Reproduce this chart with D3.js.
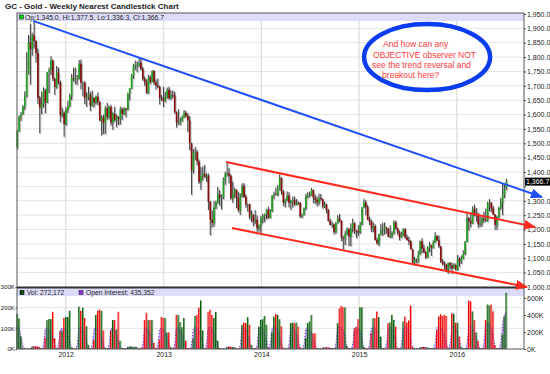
<!DOCTYPE html>
<html>
<head>
<meta charset="utf-8">
<script src="https://cdn.jsdelivr.net/npm/d3@7"></script>
<style>
  body { margin: 0; background: #fff; }
  text { font-family: "Liberation Sans", Arial, sans-serif; }
</style>
</head>
<body>
<svg id="chart" width="550" height="374"></svg>
<script>
// Weekly candles, week of 2011-07-04 through week of 2016-07-04 (262 weeks)
const weeks = d3.timeMonday.range(new Date(2011, 6, 4), new Date(2016, 6, 5));

const open = [
  // 2011
  1488,1542,1594,1601,1628,1663,1744,1852,1828,1876,1856,1814,1658,1624,1636,1683,1642,1747,1755,1788,1725,1696,1746,1713,1598,1606,
  // 2012
  1566,1617,1630,1664,1727,1725,1725,1725,1777,1711,1711,1658,1662,1669,1631,1659,1642,1663,1645,1580,1591,1572,1622,1592,1627,1572,1604,1580,1592,1585,1619,1603,1621,1617,1672,1692,1737,1770,1772,1773,1781,1759,1724,1712,1676,1730,1714,1752,1712,1702,1697,1657,1656,
  // 2013
  1649,1662,1687,1657,1669,1667,1609,1572,1572,1577,1592,1606,1596,1580,1501,1405,1468,1470,1436,1366,1386,1393,1383,1387,1297,1234,1223,1277,1295,1322,1310,1313,1371,1395,1395,1387,1308,1325,1338,1310,1268,1315,1352,1315,1287,1288,1244,1251,1229,1235,1204,1214,
  // 2014
  1238,1247,1254,1270,1240,1262,1318,1324,1321,1338,1379,1333,1294,1303,1318,1293,1300,1302,1287,1293,1292,1245,1252,1274,1316,1320,1320,1337,1311,1303,1294,1310,1306,1280,1287,1268,1229,1216,1218,1192,1222,1238,1231,1171,1169,1185,1201,1175,1204,1222,1196,1195,
  // 2015
  1189,1217,1277,1294,1278,1234,1227,1204,1212,1164,1152,1184,1199,1201,1207,1203,1175,1178,1188,1225,1204,1189,1172,1180,1201,1173,1163,1158,1131,1085,1095,1094,1113,1159,1134,1121,1103,1137,1145,1137,1156,1177,1163,1142,1088,1081,1077,1056,1084,1075,1065,1076,
  // 2016
  1060,1098,1088,1097,1116,1157,1239,1230,1221,1271,1250,1255,1218,1222,1239,1234,1231,1291,1294,1273,1252,1216,1243,1275,1294,1322,1345.0
];

const high = [
  1546,1597,1610,1633,1681,1817,1877,1917,1885,1923,1860,1830,1665,1680,1695,1690,1748,1764,1804,1792,1728,1769,1764,1718,1624,1612,
  1626,1648,1673,1741,1763,1764,1738,1790,1792,1715,1716,1678,1697,1680,1684,1660,1667,1677,1646,1597,1600,1630,1641,1631,1634,1608,1628,1600,1595,1628,1625,1626,1624,1677,1692,1741,1777,1788,1785,1798,1793,1766,1732,1723,1739,1737,1754,1755,1722,1726,1700,1668,1697,
  1679,1694,1697,1684,1684,1680,1611,1619,1590,1597,1616,1613,1605,1595,1502,1480,1488,1477,1444,1417,1420,1425,1396,1395,1299,1267,1299,1301,1348,1337,1322,1382,1401,1433,1414,1392,1367,1346,1340,1331,1326,1361,1362,1322,1290,1290,1266,1254,1267,1249,1218,1248,
  1255,1256,1272,1280,1271,1320,1332,1346,1355,1392,1382,1337,1307,1333,1330,1304,1315,1315,1306,1298,1296,1255,1277,1325,1330,1332,1345,1339,1322,1315,1325,1324,1308,1297,1290,1272,1238,1228,1221,1227,1250,1255,1232,1178,1196,1208,1206,1222,1238,1225,1199,1215,
  1227,1278,1307,1302,1285,1244,1235,1225,1218,1172,1186,1219,1224,1225,1210,1206,1215,1194,1232,1232,1207,1196,1193,1205,1206,1183,1175,1164,1133,1105,1099,1126,1162,1170,1147,1125,1142,1157,1148,1163,1191,1180,1180,1142,1097,1090,1081,1085,1087,1085,1083,1082,
  1112,1104,1110,1128,1160,1263,1244,1261,1281,1287,1275,1258,1246,1251,1262,1273,1297,1306,1294,1282,1254,1248,1280,1311,1362,1358,1377.5
];

const low = [
  1481,1540,1578,1600,1617,1660,1740,1705,1805,1830,1781,1637,1535,1601,1625,1605,1640,1675,1738,1717,1669,1690,1705,1573,1590,1523,
  1562,1606,1626,1651,1715,1705,1704,1722,1688,1663,1636,1627,1650,1612,1628,1625,1635,1633,1577,1527,1532,1533,1582,1584,1562,1547,1576,1556,1564,1565,1582,1599,1590,1615,1650,1689,1724,1755,1747,1765,1754,1718,1700,1672,1672,1706,1713,1703,1687,1692,1635,1647,1626,
  1643,1655,1652,1651,1658,1603,1555,1564,1563,1576,1588,1590,1540,1476,1321,1395,1442,1423,1359,1338,1372,1380,1366,1268,1180,1207,1211,1271,1290,1283,1270,1305,1356,1384,1361,1305,1293,1311,1274,1260,1251,1312,1310,1276,1262,1235,1225,1211,1218,1185,1193,1183,
  1222,1226,1235,1238,1240,1262,1306,1320,1316,1336,1321,1282,1277,1298,1277,1268,1277,1283,1284,1285,1240,1240,1249,1268,1309,1312,1317,1292,1289,1280,1284,1300,1273,1275,1256,1228,1215,1206,1183,1186,1221,1226,1160,1132,1146,1180,1142,1142,1190,1185,1170,1177,
  1185,1215,1275,1250,1232,1216,1191,1191,1162,1147,1142,1180,1178,1183,1185,1174,1170,1170,1183,1200,1180,1162,1171,1176,1168,1162,1146,1131,1077,1078,1082,1083,1112,1118,1118,1098,1101,1122,1108,1134,1153,1160,1136,1084,1075,1062,1052,1046,1061,1046,1065,1057,
  1058,1071,1080,1097,1111,1157,1196,1207,1220,1246,1227,1206,1208,1211,1224,1227,1227,1264,1260,1250,1199,1200,1240,1269,1250,1310,1336.3
];

const close = [
  1542,1594,1601,1628,1663,1744,1852,1828,1876,1856,1814,1658,1624,1636,1683,1642,1747,1755,1788,1725,1696,1746,1713,1598,1606,1566,
  1617,1630,1664,1727,1725,1725,1725,1777,1711,1711,1658,1662,1669,1631,1659,1642,1663,1645,1580,1591,1572,1622,1592,1627,1572,1604,1580,1592,1585,1619,1603,1621,1617,1672,1692,1737,1770,1772,1773,1781,1759,1724,1712,1676,1730,1714,1752,1712,1702,1697,1657,1656,1649,
  1662,1687,1657,1669,1667,1609,1572,1572,1577,1592,1606,1596,1580,1501,1405,1468,1470,1436,1366,1386,1393,1383,1387,1297,1234,1223,1277,1295,1322,1310,1313,1371,1395,1395,1387,1308,1325,1338,1310,1268,1315,1352,1315,1287,1288,1244,1251,1229,1235,1204,1214,1238,
  1247,1254,1270,1240,1262,1318,1324,1321,1338,1379,1333,1294,1303,1318,1293,1300,1302,1287,1293,1292,1245,1252,1274,1316,1320,1320,1337,1311,1303,1294,1310,1306,1280,1287,1268,1229,1216,1218,1192,1222,1238,1231,1171,1169,1185,1201,1175,1204,1222,1196,1195,1189,
  1217,1277,1294,1278,1234,1227,1204,1212,1164,1152,1184,1199,1201,1207,1203,1175,1178,1188,1225,1204,1189,1172,1180,1201,1173,1163,1158,1131,1085,1095,1094,1113,1159,1134,1121,1103,1137,1145,1137,1156,1177,1163,1142,1088,1081,1077,1056,1084,1075,1065,1076,1060,
  1098,1088,1097,1116,1157,1239,1230,1221,1271,1250,1255,1218,1222,1239,1234,1231,1291,1294,1273,1252,1216,1243,1275,1294,1322,1340,1366.7
];

// Volume and open interest, in thousands of contracts
const volume = [
  170,148,60,5,3,2,2,3, 12,14,13,12,8,3,5, 55,140,145,145,180,52,5,4,
  85,88,150,155,155,185,8,3,2,4, 205,185,200,150,110,20,4,3, 45,165,185,190,185,90,6,3,5,
  90,140,140,95,180,40,5,3,2, 10,12,12,10,11,8,3,2,6, 140,175,140,140,140,30,4,3,
  45,155,150,150,80,80,8,3,4, 165,165,130,105,150,40,5,3,4, 50,160,165,200,235,90,5,3,
  180,190,165,150,180,40,5,3,2,2, 10,12,11,9,8,3,2,5, 117,128,125,154,117,20,5,3,4,
  108,141,144,160,117,6,3, 81,157,170,165,144,110,8,3,2,5, 125,128,125,128,108,10,3,4,
  52,125,133,165,76,76,5,3,2, 6,7,8,7,6,5,3,5, 125,197,209,202,202,15,4,3,5,
  100,105,144,202,202,10,4,3,5, 76,149,149,181,154,60,5,3,4, 125,128,165,140,108,6,3,4,
  133,157,128,138,210,10,4,3,2, 8,9,10,9,7,3,2,4,5, 92,157,168,160,165,160,5,3,
  173,170,127,127,60,10,4,3,5, 235,230,182,140,80,40,5,3,4, 140,215,210,215,182,20,4,3,5,
  70,157,272.172
];

const openInterest = [
  280,250,150,40,8,5,4,4, 18,20,20,18,12,6,60, 240,250,230,190,130,60,8,70,
  230,245,240,220,170,100,20,6,4,60, 250,255,230,170,90,15,5,60, 240,250,240,200,140,60,8,5,60,
  240,245,220,160,90,20,5,4,3, 15,18,20,18,15,10,4,5,60, 240,250,230,180,110,20,5,60,
  235,245,230,190,130,60,8,5,60, 245,250,220,160,90,20,5,4,60, 240,255,240,210,150,70,6,70,
  250,255,230,180,120,40,6,4,3,3, 15,18,18,15,12,4,5,60, 245,250,220,170,100,15,5,4,60,
  245,255,230,180,100,6,70, 240,255,250,220,160,80,8,4,4,60, 240,250,220,170,100,10,5,60,
  235,245,230,190,120,60,5,4,3, 14,16,18,16,12,8,5,60, 250,260,250,210,140,15,5,4,60,
  245,260,245,210,140,12,5,4,60, 240,255,245,210,150,60,6,5,60, 245,255,230,170,100,6,5,60,
  245,260,240,200,130,12,5,4,3, 14,16,18,16,12,5,4,5,70, 250,265,250,210,150,70,6,70,
  260,270,240,180,100,12,5,4,70, 265,270,250,200,130,60,6,5,70, 280,300,290,240,160,20,5,5,80,
  300,400,435.352
];

const priceTicks = d3.range(1000, 1951, 50);
const volTicks = [0, 100, 200, 300];
const oiTicks = [0, 200, 400, 600];
const yearTicks = [2012, 2013, 2014, 2015, 2016].map(yr => new Date(yr, 0, 1));

// Hand-drawn trend lines (date, price) and callout text
const blueTrend = [{ date: new Date(2011, 8, 1), price: 1926 }, { date: new Date(2016, 10, 14), price: 1313 }];
const upperChannel = [{ date: new Date(2013, 7, 22), price: 1435 }, { date: new Date(2016, 9, 19), price: 1209 }];
const lowerChannel = [{ date: new Date(2013, 8, 13), price: 1205 }, { date: new Date(2016, 8, 19), price: 1000 }];
const calloutLines = ["And how can any", "OBJECTIVE observer NOT", "see the trend reversal and", "breakout here?"];

const rows = weeks.map((d, i) => ({
  date: d, o: open[i], h: high[i], l: low[i], c: close[i], v: volume[i], oi: openInterest[i]
}));
const last = rows[rows.length - 1];

const svg = d3.select("#chart");
const plotL = 17, plotR = 524, plotT = 13, plotM = 287, plotB = 349;

const x = d3.scaleTime().domain([new Date(2011, 6, 3), new Date(2016, 8, 8)]).range([plotL, plotR]);
const y = d3.scaleLinear().domain([1000, 1950]).range([287, 14]);
const vy = d3.scaleLinear().domain([0, 300]).range([plotB, 287]);
const oy = d3.scaleLinear().domain([0, 600]).range([plotB, 298]);

// grid
const grid = svg.append("g");
grid.selectAll("line.h").data(priceTicks).join("line")
  .attr("x1", plotL).attr("x2", plotR)
  .attr("y1", d => y(d)).attr("y2", d => y(d))
  .attr("stroke", "#e4e4e4").attr("stroke-width", 1);
grid.selectAll("line.vh").data([100, 200]).join("line")
  .attr("x1", plotL).attr("x2", plotR)
  .attr("y1", d => vy(d)).attr("y2", d => vy(d))
  .attr("stroke", "#e4e4e4");
grid.selectAll("line.v").data(yearTicks).join("line")
  .attr("x1", d => x(d)).attr("x2", d => x(d))
  .attr("y1", plotT).attr("y2", plotB)
  .attr("stroke", "#dcdcdc").attr("stroke-width", 1.2);

// header bands
svg.append("rect").attr("x", plotL).attr("y", plotT).attr("width", plotR - plotL).attr("height", 8).attr("fill", "#dcdcf8");
svg.append("rect").attr("x", plotL).attr("y", plotM + 1).attr("width", plotR - plotL).attr("height", 8).attr("fill", "#dcdcf8");

// candles
const bw = 1.6;
const cg = svg.append("g");
const shadow = cg.append("g").attr("transform", "translate(1,1)").attr("opacity", 0.75);
shadow.selectAll("line").data(rows).join("line")
  .attr("x1", d => x(d.date)).attr("x2", d => x(d.date))
  .attr("y1", d => y(d.h)).attr("y2", d => y(d.l))
  .attr("stroke", "#a8a8a8").attr("stroke-width", 1);
shadow.selectAll("rect").data(rows).join("rect")
  .attr("x", d => x(d.date) - bw / 2).attr("width", bw)
  .attr("y", d => y(Math.max(d.o, d.c)))
  .attr("height", d => Math.max(0.8, Math.abs(y(d.o) - y(d.c))))
  .attr("fill", "#a8a8a8");
cg.selectAll("line.wick").data(rows).join("line")
  .attr("class", "wick")
  .attr("x1", d => x(d.date)).attr("x2", d => x(d.date))
  .attr("y1", d => y(d.h)).attr("y2", d => y(d.l))
  .attr("stroke", "#111").attr("stroke-width", 0.8);
cg.selectAll("rect.body").data(rows).join("rect")
  .attr("class", "body")
  .attr("x", d => x(d.date) - bw / 2).attr("width", bw)
  .attr("y", d => y(Math.max(d.o, d.c)))
  .attr("height", d => Math.max(0.8, Math.abs(y(d.o) - y(d.c))))
  .attr("fill", d => d.c >= d.o ? "#22a022" : "#8a0c0c");

// open interest area behind the volume bars
svg.append("path").datum(rows)
  .attr("d", d3.area().x(d => x(d.date)).y0(plotB).y1(d => oy(d.oi)).curve(d3.curveMonotoneX))
  .attr("fill", "#bb8ef2").attr("opacity", 0.85);

// volume bars
const vg = svg.append("g");
vg.selectAll("rect.lite").data(rows).join("rect")
  .attr("class", "lite")
  .attr("x", d => x(d.date) + 0.2).attr("width", 0.8)
  .attr("y", d => vy(d.v)).attr("height", d => plotB - vy(d.v))
  .attr("fill", d => d.c >= d.o ? "#6fa56f" : "#ff8585");
vg.selectAll("rect.dark").data(rows).join("rect")
  .attr("class", "dark")
  .attr("x", d => x(d.date) - 0.9).attr("width", 1.1)
  .attr("y", d => vy(d.v)).attr("height", d => plotB - vy(d.v))
  .attr("fill", d => d.c >= d.o ? "#0b5e0b" : "#ee0000");

svg.append("path").datum(rows)
  .attr("d", d3.line().x(d => x(d.date)).y(d => oy(d.oi)).curve(d3.curveMonotoneX))
  .attr("fill", "none").attr("stroke", "#4b2a9a").attr("stroke-width", 0.8)
  .attr("stroke-dasharray", "1.2,1.8");

// borders
svg.append("rect").attr("x", plotL).attr("y", plotT).attr("width", plotR - plotL).attr("height", plotB - plotT)
  .attr("fill", "none").attr("stroke", "#555").attr("stroke-width", 1);
svg.append("line").attr("x1", plotL).attr("x2", plotR).attr("y1", plotM + 0.5).attr("y2", plotM + 0.5)
  .attr("stroke", "#333").attr("stroke-width", 2);

// axes
const axisStyle = (g, size) => {
  g.select(".domain").remove();
  g.selectAll("line").attr("stroke", "#444");
  g.selectAll("text").attr("fill", "#222").style("font-size", (size || 7) + "px")
    .style("font-family", '"Liberation Sans", Arial, sans-serif');
};
svg.append("g").attr("transform", `translate(${plotR},0)`)
  .call(d3.axisRight(y).tickValues(priceTicks).tickSize(2).tickPadding(1)
    .tickFormat(d => Math.abs(y(d) - y(last.c)) < 6 ? "" : d3.format(",.1f")(d)))
  .call(axisStyle);
svg.append("g").attr("transform", `translate(${plotL},0)`)
  .call(d3.axisLeft(vy).tickValues(volTicks).tickSize(1.5).tickPadding(0.5).tickFormat(d => d + "K"))
  .call(axisStyle, 6.2);
svg.append("g").attr("transform", `translate(${plotR},0)`)
  .call(d3.axisRight(oy).tickValues(oiTicks).tickSize(2).tickPadding(1).tickFormat(d => d + "K"))
  .call(axisStyle);
svg.append("g").attr("transform", `translate(0,${plotB})`)
  .call(d3.axisBottom(x).tickValues(yearTicks).tickSize(0).tickPadding(3).tickFormat(d3.timeFormat("%Y")))
  .call(axisStyle);

// last price tag
svg.append("rect").attr("x", plotR + 1).attr("y", y(last.c) - 4).attr("width", 25).attr("height", 8).attr("fill", "#000");
svg.append("text").attr("x", plotR + 2).attr("y", y(last.c) + 2.5)
  .attr("fill", "#fff").style("font-size", "7px").text(d3.format(",.1f")(last.c));

// trend lines with arrow heads
const defs = svg.append("defs");
[["arrowBlue", "#1f4ff5"], ["arrowRed", "#ff2a1f"]].forEach(([id, col]) => {
  defs.append("marker").attr("id", id).attr("markerUnits", "userSpaceOnUse")
    .attr("markerWidth", 12).attr("markerHeight", 10).attr("refX", 11).attr("refY", 5)
    .attr("orient", "auto")
    .append("path").attr("d", "M0,0 L12,5 L0,10 Z").attr("fill", col);
});
const trend = d3.line().x(d => x(d.date)).y(d => y(d.price));
svg.append("path").attr("d", trend(blueTrend)).attr("stroke", "#1f4ff5").attr("stroke-width", 2)
  .attr("fill", "none").attr("marker-end", "url(#arrowBlue)");
[upperChannel, lowerChannel].forEach(seg => {
  svg.append("path").attr("d", trend(seg)).attr("stroke", "#ff2a1f").attr("stroke-width", 2)
    .attr("fill", "none").attr("marker-end", "url(#arrowRed)");
});

// callout
const cx = x(new Date(2015, 8, 12)), cy = y(1800);
svg.append("ellipse").attr("cx", cx).attr("cy", cy).attr("rx", 63).attr("ry", 33)
  .attr("fill", "#fff").attr("stroke", "#0a3cf0").attr("stroke-width", 4.5);
const offsets = [[-44, -10], [-54, 0.5], [-55, 10.8], [-45, 21]];
svg.selectAll("text.callout").data(calloutLines).join("text")
  .attr("class", "callout")
  .attr("x", (d, i) => cx + offsets[i][0]).attr("y", (d, i) => cy + offsets[i][1])
  .attr("fill", "#ff3a3a").style("font-size", "8.5px").text(d => d);

// title and legends
svg.append("text").attr("x", 5).attr("y", 8.5).attr("fill", "#222")
  .style("font-size", "8px").style("font-weight", "bold")
  .text("GC - Gold - Weekly Nearest Candlestick Chart");

svg.append("rect").attr("x", 19.5).attr("y", 15).attr("width", 4).attr("height", 4)
  .attr("fill", "#11cc11").attr("stroke", "#064006").attr("stroke-width", 0.6);
const f1 = d3.format(",.1f");
svg.append("text").attr("x", 25).attr("y", 19.6).attr("fill", "#222").style("font-size", "6.8px")
  .text(`Op:${f1(last.o)}, Hi:${f1(last.h)}, Lo:${f1(last.l)}, Cl:${f1(last.c)}`);

svg.append("rect").attr("x", 20).attr("y", 290.5).attr("width", 4).attr("height", 4)
  .attr("fill", "#0b4d0b").attr("stroke", "#000").attr("stroke-width", 0.6);
svg.append("text").attr("x", 27).attr("y", 295).attr("fill", "#222").style("font-size", "6.7px")
  .text(`Vol: ${d3.format(",")(Math.round(last.v * 1000))}`);
svg.append("rect").attr("x", 79).attr("y", 290.5).attr("width", 4).attr("height", 4)
  .attr("fill", "#8a2be2").attr("stroke", "#333").attr("stroke-width", 0.6);
svg.append("text").attr("x", 86).attr("y", 295).attr("fill", "#222").style("font-size", "6.7px")
  .text(`Open Interest: ${d3.format(",")(Math.round(last.oi * 1000))}`);
</script>
</body>
</html>
